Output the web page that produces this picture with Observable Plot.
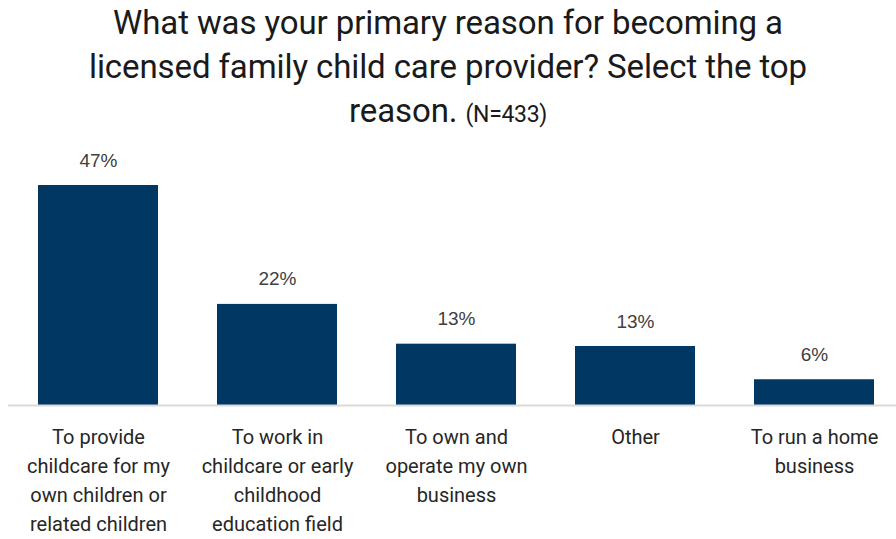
<!DOCTYPE html>
<html>
<head>
<meta charset="utf-8">
<script src="https://cdn.jsdelivr.net/npm/d3@7"></script>
<script src="https://cdn.jsdelivr.net/npm/@observablehq/plot@0.6"></script>
<style>
  html, body { margin: 0; padding: 0; background: #fff; }
  #title {
    width: 896px; height: 145px; box-sizing: border-box;
    text-align: center; color: #1a1a1a;
    font-family: "Roboto", sans-serif;
    font-size: 33px; line-height: 44px; padding-top: 1px; letter-spacing: -0.1px;
  }
  #title .n { font-size: 23px; letter-spacing: -0.3px; }
  #chart svg { display: block; }
</style>
</head>
<body>
<div id="title">What was your primary reason for becoming a<br>licensed family child care provider? Select the top<br>reason. <span class="n">(N=433)</span></div>
<div id="chart"></div>
<script>
const categories = [
  "To provide\nchildcare for my\nown children or\nrelated children",
  "To work in\nchildcare or early\nchildhood\neducation field",
  "To own and\noperate my own\nbusiness",
  "Other",
  "To run a home\nbusiness"
];
const values = [47, 21.6, 13.1, 12.6, 5.5];
const valueLabels = ["47%", "22%", "13%", "13%", "6%"];

const data = categories.map((c, i) => ({category: c, value: values[i], label: valueLabels[i]}));

const chart = Plot.plot({
  width: 896,
  height: 394,
  marginLeft: 8,
  marginRight: 0,
  marginTop: 0,
  marginBottom: 134,
  x: {domain: categories, range: [8.5, 904], paddingInner: 0.33, paddingOuter: 0.165, label: null},
  y: {domain: [0, 47], range: [260, 40], axis: null},
  style: {fontFamily: "Roboto, sans-serif", background: "#fff"},
  marks: [
    Plot.barY(data, {x: "category", y: "value", fill: "#013763"}),
    Plot.ruleY([0], {stroke: "#d9d9d9", strokeWidth: 2}),
    Plot.text(data, {x: "category", y: "value", text: "label", dy: -25, fontSize: 19, fill: "#404040", fontFamily: "Liberation Sans, Arial, sans-serif"}),
    Plot.axisX({tickSize: 0, tickPadding: 18, fontSize: 20, lineHeight: 1.45, fill: "#262626", label: null, style: {letterSpacing: "-0.3px"}})
  ]
});
document.getElementById("chart").appendChild(chart);
</script>
</body>
</html>
